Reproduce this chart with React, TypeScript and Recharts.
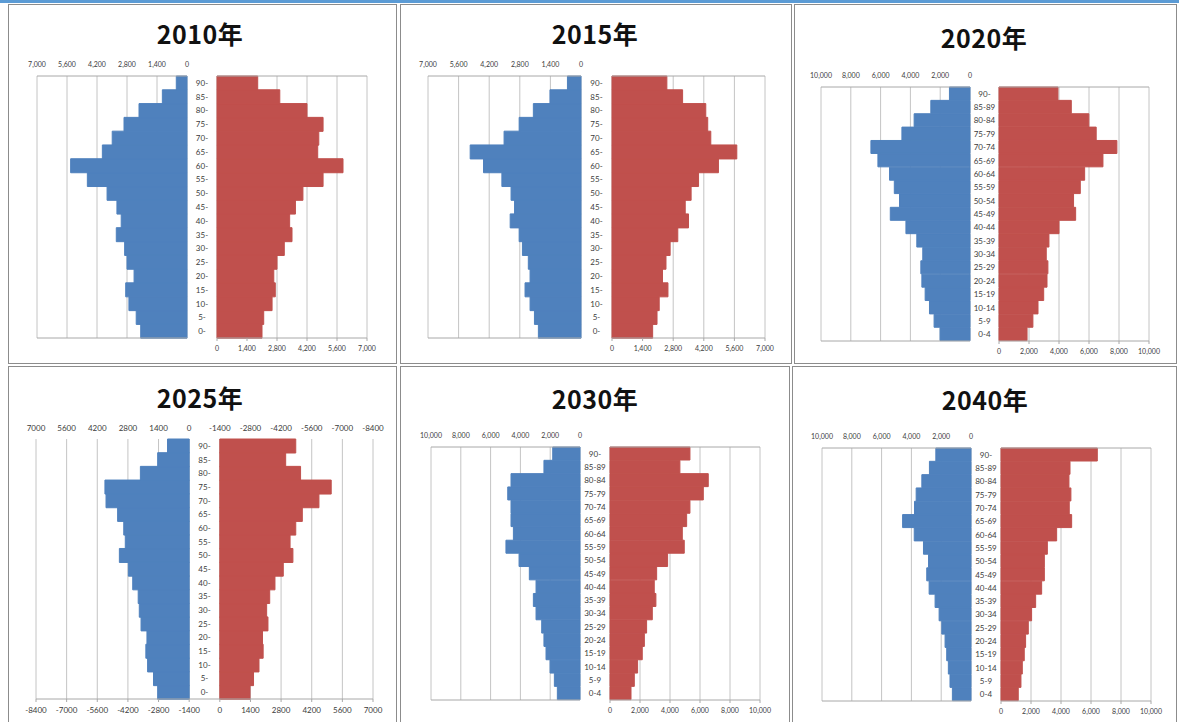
import React from "react";
import { BarChart, Bar, XAxis, YAxis, CartesianGrid } from "recharts";

// age groups, youngest first
const AGES_OPEN = ["0-", "5-", "10-", "15-", "20-", "25-", "30-", "35-", "40-", "45-", "50-", "55-", "60-", "65-", "70-", "75-", "80-", "85-", "90-"];
const AGES_RANGE = ["0-4", "5-9", "10-14", "15-19", "20-24", "25-29", "30-34", "35-39", "40-44", "45-49", "50-54", "55-59", "60-64", "65-69", "70-74", "75-79", "80-84", "85-89", "90-"];

const TICKS_7000 = [0, 1400, 2800, 4200, 5600, 7000];
const TICKS_10000 = [0, 2000, 4000, 6000, 8000, 10000];
const TICKS_2025 = [-8400, -7000, -5600, -4200, -2800, -1400, 0, 1400, 2800, 4200, 5600, 7000];

// population per age group (left = men, right = women)
const MEN_2010 = [2160, 2370, 2710, 2860, 2470, 2800, 2910, 3300, 3070, 3270, 3730, 4650, 5430, 3950, 3490, 2940, 2240, 1150, 500];
const WOMEN_2010 = [2100, 2180, 2570, 2720, 2650, 2800, 3140, 3500, 3390, 3660, 4010, 4950, 5880, 4700, 4750, 4950, 4200, 2930, 1900];

const MEN_2015 = [1950, 2130, 2330, 2560, 2330, 2410, 2680, 2830, 3240, 3040, 3200, 3620, 4460, 5070, 3520, 2830, 2180, 1420, 620];
const WOMEN_2015 = [1860, 2060, 2160, 2560, 2310, 2470, 2660, 3010, 3500, 3350, 3620, 3960, 4870, 5710, 4520, 4380, 4290, 3230, 2510];

const MEN_2020 = [2010, 2410, 2720, 3010, 3230, 3300, 3170, 3570, 4300, 5350, 4730, 5080, 5400, 6180, 6650, 4570, 3750, 2630, 1380];
const WOMEN_2020 = [1870, 2260, 2600, 2980, 3200, 3260, 3150, 3330, 4000, 5110, 4970, 5420, 5710, 6930, 7860, 6480, 5990, 4820, 3930];

const MEN_2025 = [1440, 1630, 1900, 1980, 1930, 2200, 2280, 2330, 2580, 2780, 3190, 2920, 2990, 3270, 3800, 3850, 2230, 1440, 990];
const WOMEN_2025 = [1380, 1540, 1790, 1980, 1950, 2200, 2140, 2280, 2520, 2900, 3340, 3210, 3470, 3770, 4530, 5090, 3690, 3010, 3470];

const MEN_2030 = [1520, 1720, 2010, 2280, 2420, 2570, 2950, 3130, 2950, 3400, 4090, 4970, 4470, 4630, 4630, 4850, 4630, 2420, 1830];
const WOMEN_2030 = [1400, 1620, 1840, 2150, 2290, 2440, 2820, 3060, 2950, 3110, 3840, 4950, 4820, 5110, 5330, 6220, 6550, 4660, 5330];

const MEN_2040 = [1250, 1410, 1520, 1630, 1740, 1960, 2140, 2410, 2810, 2970, 2850, 3190, 3810, 4590, 3790, 3680, 3300, 2790, 2360];
const WOMEN_2040 = [1150, 1330, 1420, 1550, 1640, 1820, 2040, 2310, 2710, 2890, 2890, 3090, 3710, 4710, 4550, 4660, 4530, 4600, 6420];

const BLUE = "#4f81bd";
const RED = "#c0504d";
const GRID = "#c4c4c4";
const AXIS = "#a8a8a8";
const TEXT = "#3c3c3c";
const FONT = "Lato, 'Liberation Sans', sans-serif";
const TITLE_FONT = "'Noto Sans CJK JP', sans-serif";

const SIDE = 24;
const TOP_H = 20;
const BOT_H = 20;

type Plot = { x0: number; x1: number; y0: number; y1: number };

const comma = (v: number) => v.toLocaleString("en-US");
const blank = () => "";

// bars are outlined in their own colour so neighbouring bands meet without a seam
const barProps = (color: string) => ({
  fill: color,
  stroke: color,
  strokeWidth: 1,
  isAnimationActive: false,
});

const ageTick = (cx: number) => (props: any) => (
  <text
    x={cx}
    y={props.y}
    dy={3}
    textAnchor="middle"
    fontSize={8}
    fill={TEXT}
    fontFamily={FONT}
  >
    {props.payload.value}
  </text>
);

function LeftHalf({ ages, values, ticks, plot }: { ages: string[]; values: number[]; ticks: number[]; plot: Plot }) {
  const max = ticks[ticks.length - 1];
  const data = ages.map((age, i) => ({ age, v: values[i] }));
  const w = plot.x1 - plot.x0;
  const h = plot.y1 - plot.y0;
  return (
    <div style={{ position: "absolute", left: plot.x0 - SIDE, top: plot.y0 - TOP_H }}>
      <BarChart
        width={w + SIDE * 2}
        height={h + TOP_H + BOT_H}
        data={data}
        layout="vertical"
        margin={{ top: 0, right: SIDE, bottom: 0, left: SIDE }}
        barCategoryGap={0}
      >
        <CartesianGrid xAxisId="top" horizontal={false} stroke={GRID} />
        <XAxis
          xAxisId="top"
          type="number"
          orientation="top"
          reversed
          domain={[0, max]}
          ticks={ticks}
          interval={0}
          height={TOP_H}
          tickFormatter={comma}
          tick={{ fontSize: 7, fill: TEXT, fontFamily: FONT }}
          stroke={AXIS}
          tickLine={false}
          tickSize={0}
          tickMargin={9}
        />
        <XAxis
          xAxisId="bottom"
          type="number"
          orientation="bottom"
          reversed
          domain={[0, max]}
          ticks={ticks}
          interval={0}
          height={BOT_H}
          tickFormatter={blank}
          stroke={AXIS}
          tickSize={3}
        />
        <YAxis type="category" dataKey="age" reversed hide />
        <Bar xAxisId="top" dataKey="v" {...barProps(BLUE)} />
      </BarChart>
    </div>
  );
}

function RightHalf({ ages, values, ticks, plot, gap }: { ages: string[]; values: number[]; ticks: number[]; plot: Plot; gap: number }) {
  const max = ticks[ticks.length - 1];
  const data = ages.map((age, i) => ({ age, v: values[i] }));
  const w = plot.x1 - plot.x0;
  const h = plot.y1 - plot.y0;
  return (
    <div style={{ position: "absolute", left: plot.x0 - gap, top: plot.y0 - TOP_H }}>
      <BarChart
        width={w + gap + SIDE}
        height={h + TOP_H + BOT_H}
        data={data}
        layout="vertical"
        margin={{ top: 0, right: SIDE, bottom: 0, left: 0 }}
        barCategoryGap={0}
      >
        <CartesianGrid xAxisId="bottom" horizontal={false} stroke={GRID} />
        <XAxis
          xAxisId="top"
          type="number"
          orientation="top"
          domain={[0, max]}
          ticks={ticks}
          interval={0}
          height={TOP_H}
          tickFormatter={blank}
          stroke={AXIS}
          tickLine={false}
        />
        <XAxis
          xAxisId="bottom"
          type="number"
          orientation="bottom"
          domain={[0, max]}
          ticks={ticks}
          interval={0}
          height={BOT_H}
          tickFormatter={comma}
          tick={{ fontSize: 7, fill: TEXT, fontFamily: FONT }}
          stroke={AXIS}
          tickSize={3}
          tickMargin={5}
        />
        <YAxis
          type="category"
          dataKey="age"
          reversed
          width={gap}
          axisLine={false}
          tickLine={false}
          interval={0}
          tick={ageTick(gap / 2)}
        />
        <Bar xAxisId="bottom" dataKey="v" {...barProps(RED)} />
      </BarChart>
    </div>
  );
}

// one shared plot, the two value axes run in opposite directions
function FullPyramid({ ages, left, right, ticks, plot }: { ages: string[]; left: number[]; right: number[]; ticks: number[]; plot: Plot }) {
  const data = ages.map((age, i) => ({ age, m: left[i], f: right[i] }));
  const dom = [ticks[0], ticks[ticks.length - 1]];
  const w = plot.x1 - plot.x0;
  const h = plot.y1 - plot.y0;
  const labelStyle = { fontSize: 8, fill: TEXT, fontFamily: FONT };
  return (
    <div style={{ position: "absolute", left: plot.x0 - SIDE, top: plot.y0 - TOP_H }}>
      <BarChart
        width={w + SIDE * 2}
        height={h + TOP_H + BOT_H}
        data={data}
        layout="vertical"
        margin={{ top: 0, right: SIDE, bottom: 0, left: 0 }}
        barCategoryGap={0}
      >
        <CartesianGrid xAxisId="bottom" yAxisId="a" horizontal={false} stroke={GRID} />
        <XAxis
          xAxisId="top"
          type="number"
          orientation="top"
          reversed
          domain={dom}
          ticks={ticks}
          interval={0}
          height={TOP_H}
          tick={labelStyle}
          axisLine={false}
          tickLine={false}
          tickSize={0}
          tickMargin={8}
        />
        <XAxis
          xAxisId="bottom"
          type="number"
          orientation="bottom"
          domain={dom}
          ticks={ticks}
          interval={0}
          height={BOT_H}
          tick={labelStyle}
          stroke={AXIS}
          tickSize={3}
          tickMargin={5}
        />
        <YAxis
          yAxisId="a"
          type="category"
          dataKey="age"
          reversed
          width={SIDE}
          axisLine={false}
          tickLine={false}
          interval={0}
          tick={ageTick(SIDE + w / 2)}
        />
        <YAxis yAxisId="b" type="category" dataKey="age" reversed hide />
        <Bar xAxisId="top" yAxisId="a" dataKey="m" {...barProps(BLUE)} />
        <Bar xAxisId="bottom" yAxisId="b" dataKey="f" {...barProps(RED)} />
      </BarChart>
    </div>
  );
}

function Frame({ x, y, w, h }: { x: number; y: number; w: number; h: number }) {
  return (
    <div
      style={{
        position: "absolute",
        left: x,
        top: y,
        width: w,
        height: h,
        border: "1px solid #8c8c8c",
        boxSizing: "border-box",
        background: "#fff",
      }}
    />
  );
}

function Title({ text, cx, cy }: { text: string; cx: number; cy: number }) {
  return (
    <div
      style={{
        position: "absolute",
        left: cx - 100,
        top: cy - 16,
        width: 200,
        height: 32,
        lineHeight: "32px",
        textAlign: "center",
        fontFamily: TITLE_FONT,
        fontWeight: 700,
        fontSize: 25,
        letterSpacing: 0.5,
        color: "#111",
      }}
    >
      {text}
    </div>
  );
}

export default function App() {
  return (
    <div
      style={{
        position: "absolute",
        left: 0,
        top: 0,
        width: 1179,
        height: 722,
        background: "#fff",
        overflow: "hidden",
      }}
    >
      <div style={{ position: "absolute", left: 0, top: 0, width: 1179, height: 3, background: "#5b9bd5" }} />

      <Frame x={8} y={4} w={389} h={360} />
      <Frame x={400} y={4} w={392} h={360} />
      <Frame x={794} y={4} w={383} h={360} />
      <Frame x={8} y={366} w={389} h={360} />
      <Frame x={400} y={366} w={390} h={360} />
      <Frame x={792} y={366} w={385} h={360} />

      <Title text="2010年" cx={200} cy={33} />
      <LeftHalf ages={AGES_OPEN} values={MEN_2010} ticks={TICKS_7000} plot={{ x0: 37, x1: 187, y0: 76, y1: 338 }} />
      <RightHalf ages={AGES_OPEN} values={WOMEN_2010} ticks={TICKS_7000} plot={{ x0: 217, x1: 367, y0: 76, y1: 338 }} gap={30} />

      <Title text="2015年" cx={595} cy={33} />
      <LeftHalf ages={AGES_OPEN} values={MEN_2015} ticks={TICKS_7000} plot={{ x0: 428, x1: 581, y0: 76, y1: 338 }} />
      <RightHalf ages={AGES_OPEN} values={WOMEN_2015} ticks={TICKS_7000} plot={{ x0: 612, x1: 765, y0: 76, y1: 338 }} gap={31} />

      <Title text="2020年" cx={984} cy={37} />
      <LeftHalf ages={AGES_RANGE} values={MEN_2020} ticks={TICKS_10000} plot={{ x0: 821, x1: 970, y0: 87, y1: 341 }} />
      <RightHalf ages={AGES_RANGE} values={WOMEN_2020} ticks={TICKS_10000} plot={{ x0: 999, x1: 1149, y0: 87, y1: 341 }} gap={29} />

      <Title text="2025年" cx={200} cy={397} />
      <FullPyramid ages={AGES_OPEN} left={MEN_2025} right={WOMEN_2025} ticks={TICKS_2025} plot={{ x0: 36, x1: 373, y0: 439, y1: 699 }} />

      <Title text="2030年" cx={595} cy={398} />
      <LeftHalf ages={AGES_RANGE} values={MEN_2030} ticks={TICKS_10000} plot={{ x0: 431, x1: 580, y0: 447, y1: 700 }} />
      <RightHalf ages={AGES_RANGE} values={WOMEN_2030} ticks={TICKS_10000} plot={{ x0: 610, x1: 760, y0: 447, y1: 700 }} gap={30} />

      <Title text="2040年" cx={985} cy={399} />
      <LeftHalf ages={AGES_RANGE} values={MEN_2040} ticks={TICKS_10000} plot={{ x0: 822, x1: 971, y0: 448, y1: 701 }} />
      <RightHalf ages={AGES_RANGE} values={WOMEN_2040} ticks={TICKS_10000} plot={{ x0: 1001, x1: 1151, y0: 448, y1: 701 }} gap={30} />
    </div>
  );
}
